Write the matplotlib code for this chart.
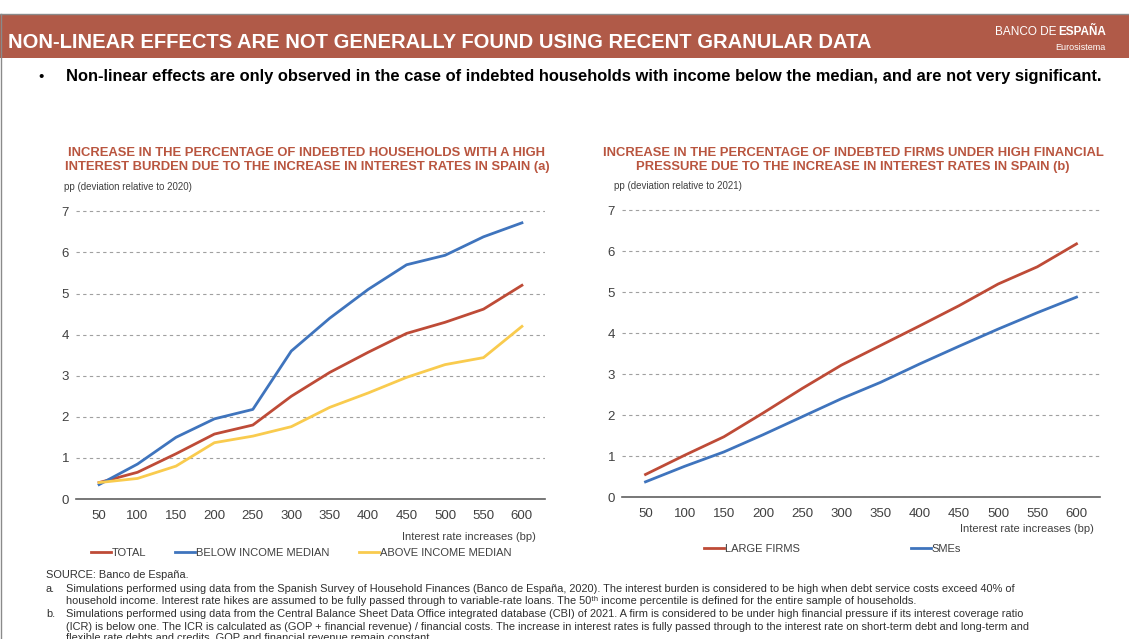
import matplotlib.pyplot as plt
from matplotlib.lines import Line2D

plt.rcParams['font.family'] = ['Liberation Sans', 'DejaVu Sans']

bp = ['50', '100', '150', '200', '250', '300', '350', '400', '450', '500', '550', '600']

total = [0.40, 0.65, 1.10, 1.58, 1.80, 2.50, 3.08, 3.57, 4.03, 4.30, 4.62, 5.20]
below_median = [0.35, 0.85, 1.50, 1.95, 2.18, 3.60, 4.40, 5.10, 5.70, 5.93, 6.38, 6.72]
above_median = [0.40, 0.50, 0.80, 1.37, 1.53, 1.76, 2.23, 2.58, 2.96, 3.27, 3.44, 4.20]

large_firms = [0.55, 1.02, 1.47, 2.05, 2.65, 3.22, 3.70, 4.18, 4.67, 5.20, 5.62, 6.18]
smes = [0.37, 0.75, 1.10, 1.52, 1.96, 2.40, 2.80, 3.25, 3.68, 4.10, 4.50, 4.88]

RED = '#BE4B37'
BLUE = '#3F74BD'
YELLOW = '#F9CB4E'
BRICK = '#B05A48'
TITLE_RED = '#B9553F'

W, H = 1129, 639
fig = plt.figure(figsize=(W / 100, H / 100), dpi=100)


def px(x0, y0, x1, y1):
    # pixel box (top-left origin) -> figure fraction rect
    return [x0 / W, 1 - y1 / H, (x1 - x0) / W, (y1 - y0) / H]


# header bar
hdr = fig.add_axes(px(0, 14, W, 58))
hdr.set_facecolor(BRICK)
hdr.set_xticks([])
hdr.set_yticks([])
for s in hdr.spines.values():
    s.set_visible(False)
fig.add_artist(Line2D([0, 1], [1 - 14 / H, 1 - 14 / H], color='#8a8a8a', lw=1))
fig.add_artist(Line2D([1 / W, 1 / W], [0, 1 - 14 / H], color='#8a8a8a', lw=1))

fig.text(8 / W, 1 - 42 / H, 'NON-LINEAR EFFECTS ARE NOT GENERALLY FOUND USING RECENT GRANULAR DATA',
         color='white', fontsize=14.5, fontweight='bold', va='center', ha='left')
esp = fig.text(1106 / W, 1 - 32 / H, 'ESPAÑA', color='white', fontsize=8.5, fontweight='bold',
               va='center', ha='right')
fig.canvas.draw()
esp_x0 = esp.get_window_extent().x0
fig.text((esp_x0 - 2) / W, 1 - 32 / H, 'BANCO DE', color='white', fontsize=8.5, va='center', ha='right')
fig.text(1106 / W, 1 - 48 / H, 'Eurosistema', color='white', fontsize=6.5, va='center', ha='right')

fig.text(38 / W, 1 - 77 / H, '•', fontsize=11, va='center', ha='left')
fig.text(66 / W, 1 - 77 / H,
         'Non-linear effects are only observed in the case of indebted households with income below the median, and are not very significant.',
         fontsize=11.9, fontweight='bold', va='center', ha='left')


def style_axes(ax):
    ax.set_ylim(0, 7.3)
    ax.set_xlim(-0.6, 11.6)
    ax.set_yticks(range(0, 8))
    ax.yaxis.grid(True, linestyle=(0, (3, 3)), color='#a0a0a0', lw=0.8)
    ax.set_axisbelow(True)
    for s in ['top', 'right', 'left']:
        ax.spines[s].set_visible(False)
    ax.spines['bottom'].set_color('#606060')
    ax.spines['bottom'].set_linewidth(1.2)
    ax.tick_params(length=0, labelsize=9.5, colors='#404040', pad=8)
    ax.tick_params(axis='y', pad=5)


# left chart
ax1 = fig.add_axes(px(76, 199, 545, 499))
x = range(len(bp))
ax1.plot(x, total, color=RED, lw=2, label='TOTAL')
ax1.plot(x, below_median, color=BLUE, lw=2, label='BELOW INCOME MEDIAN')
ax1.plot(x, above_median, color=YELLOW, lw=2, label='ABOVE INCOME MEDIAN')
ax1.set_xticks(list(x))
ax1.set_xticklabels(bp)
style_axes(ax1)
ax1.legend(loc='upper left', bbox_to_anchor=(0.01, -0.13), ncol=3, frameon=False, fontsize=8,
           handlelength=1.8, handletextpad=0.1, columnspacing=2.6, labelcolor='#404040')

fig.text(307 / W, 1 - 160 / H,
         'INCREASE IN THE PERCENTAGE OF INDEBTED HOUSEHOLDS WITH A HIGH\nINTEREST BURDEN DUE TO THE INCREASE IN INTEREST RATES IN SPAIN (a)',
         color=TITLE_RED, fontsize=9.35, fontweight='bold', ha='center', va='center', linespacing=1.3)
fig.text(64 / W, 1 - 187 / H, 'pp (deviation relative to 2020)', fontsize=7, color='#404040',
         ha='left', va='center')
fig.text(536 / W, 1 - 537 / H, 'Interest rate increases (bp)', fontsize=8, color='#404040',
         ha='right', va='center')

# right chart
ax2 = fig.add_axes(px(622, 198, 1100, 497))
ax2.plot(x, large_firms, color=RED, lw=2, label='LARGE FIRMS')
ax2.plot(x, smes, color=BLUE, lw=2, label='SMEs')
ax2.set_xticks(list(x))
ax2.set_xticklabels(bp)
style_axes(ax2)
ax2.legend(loc='upper left', bbox_to_anchor=(0.15, -0.125), ncol=2, frameon=False, fontsize=8,
           handlelength=1.8, handletextpad=0.1, columnspacing=10, labelcolor='#404040')

fig.text(853 / W, 1 - 160 / H,
         'INCREASE IN THE PERCENTAGE OF INDEBTED FIRMS UNDER HIGH FINANCIAL\nPRESSURE DUE TO THE INCREASE IN INTEREST RATES IN SPAIN (b)',
         color=TITLE_RED, fontsize=9.35, fontweight='bold', ha='center', va='center', linespacing=1.3)
fig.text(614 / W, 1 - 186 / H, 'pp (deviation relative to 2021)', fontsize=7, color='#404040',
         ha='left', va='center')
fig.text(1094 / W, 1 - 529 / H, 'Interest rate increases (bp)', fontsize=8, color='#404040',
         ha='right', va='center')

# footnotes
notes = [
    (46, 575, 'SOURCE: Banco de España.'),
    (46, 589, 'a.'),
    (66, 589, 'Simulations performed using data from the Spanish Survey of Household Finances (Banco de España, 2020). The interest burden is considered to be high when debt service costs exceed 40% of'),
    (66, 601, 'household income. Interest rate hikes are assumed to be fully passed through to variable-rate loans. The 50ᵗʰ income percentile is defined for the entire sample of households.'),
    (46, 614, 'b.'),
    (66, 614, 'Simulations performed using data from the Central Balance Sheet Data Office integrated database (CBI) of 2021. A firm is considered to be under high financial pressure if its interest coverage ratio'),
    (66, 627, '(ICR) is below one. The ICR is calculated as (GOP + financial revenue) / financial costs. The increase in interest rates is fully passed through to the interest rate on short-term debt and long-term and'),
    (66, 638, 'flexible rate debts and credits. GOP and financial revenue remain constant.'),
]
for nx, ny, t in notes:
    fig.text(nx / W, 1 - ny / H, t, fontsize=7.9, color='#303030', ha='left', va='center')

fig.savefig('out.png', dpi=100)
